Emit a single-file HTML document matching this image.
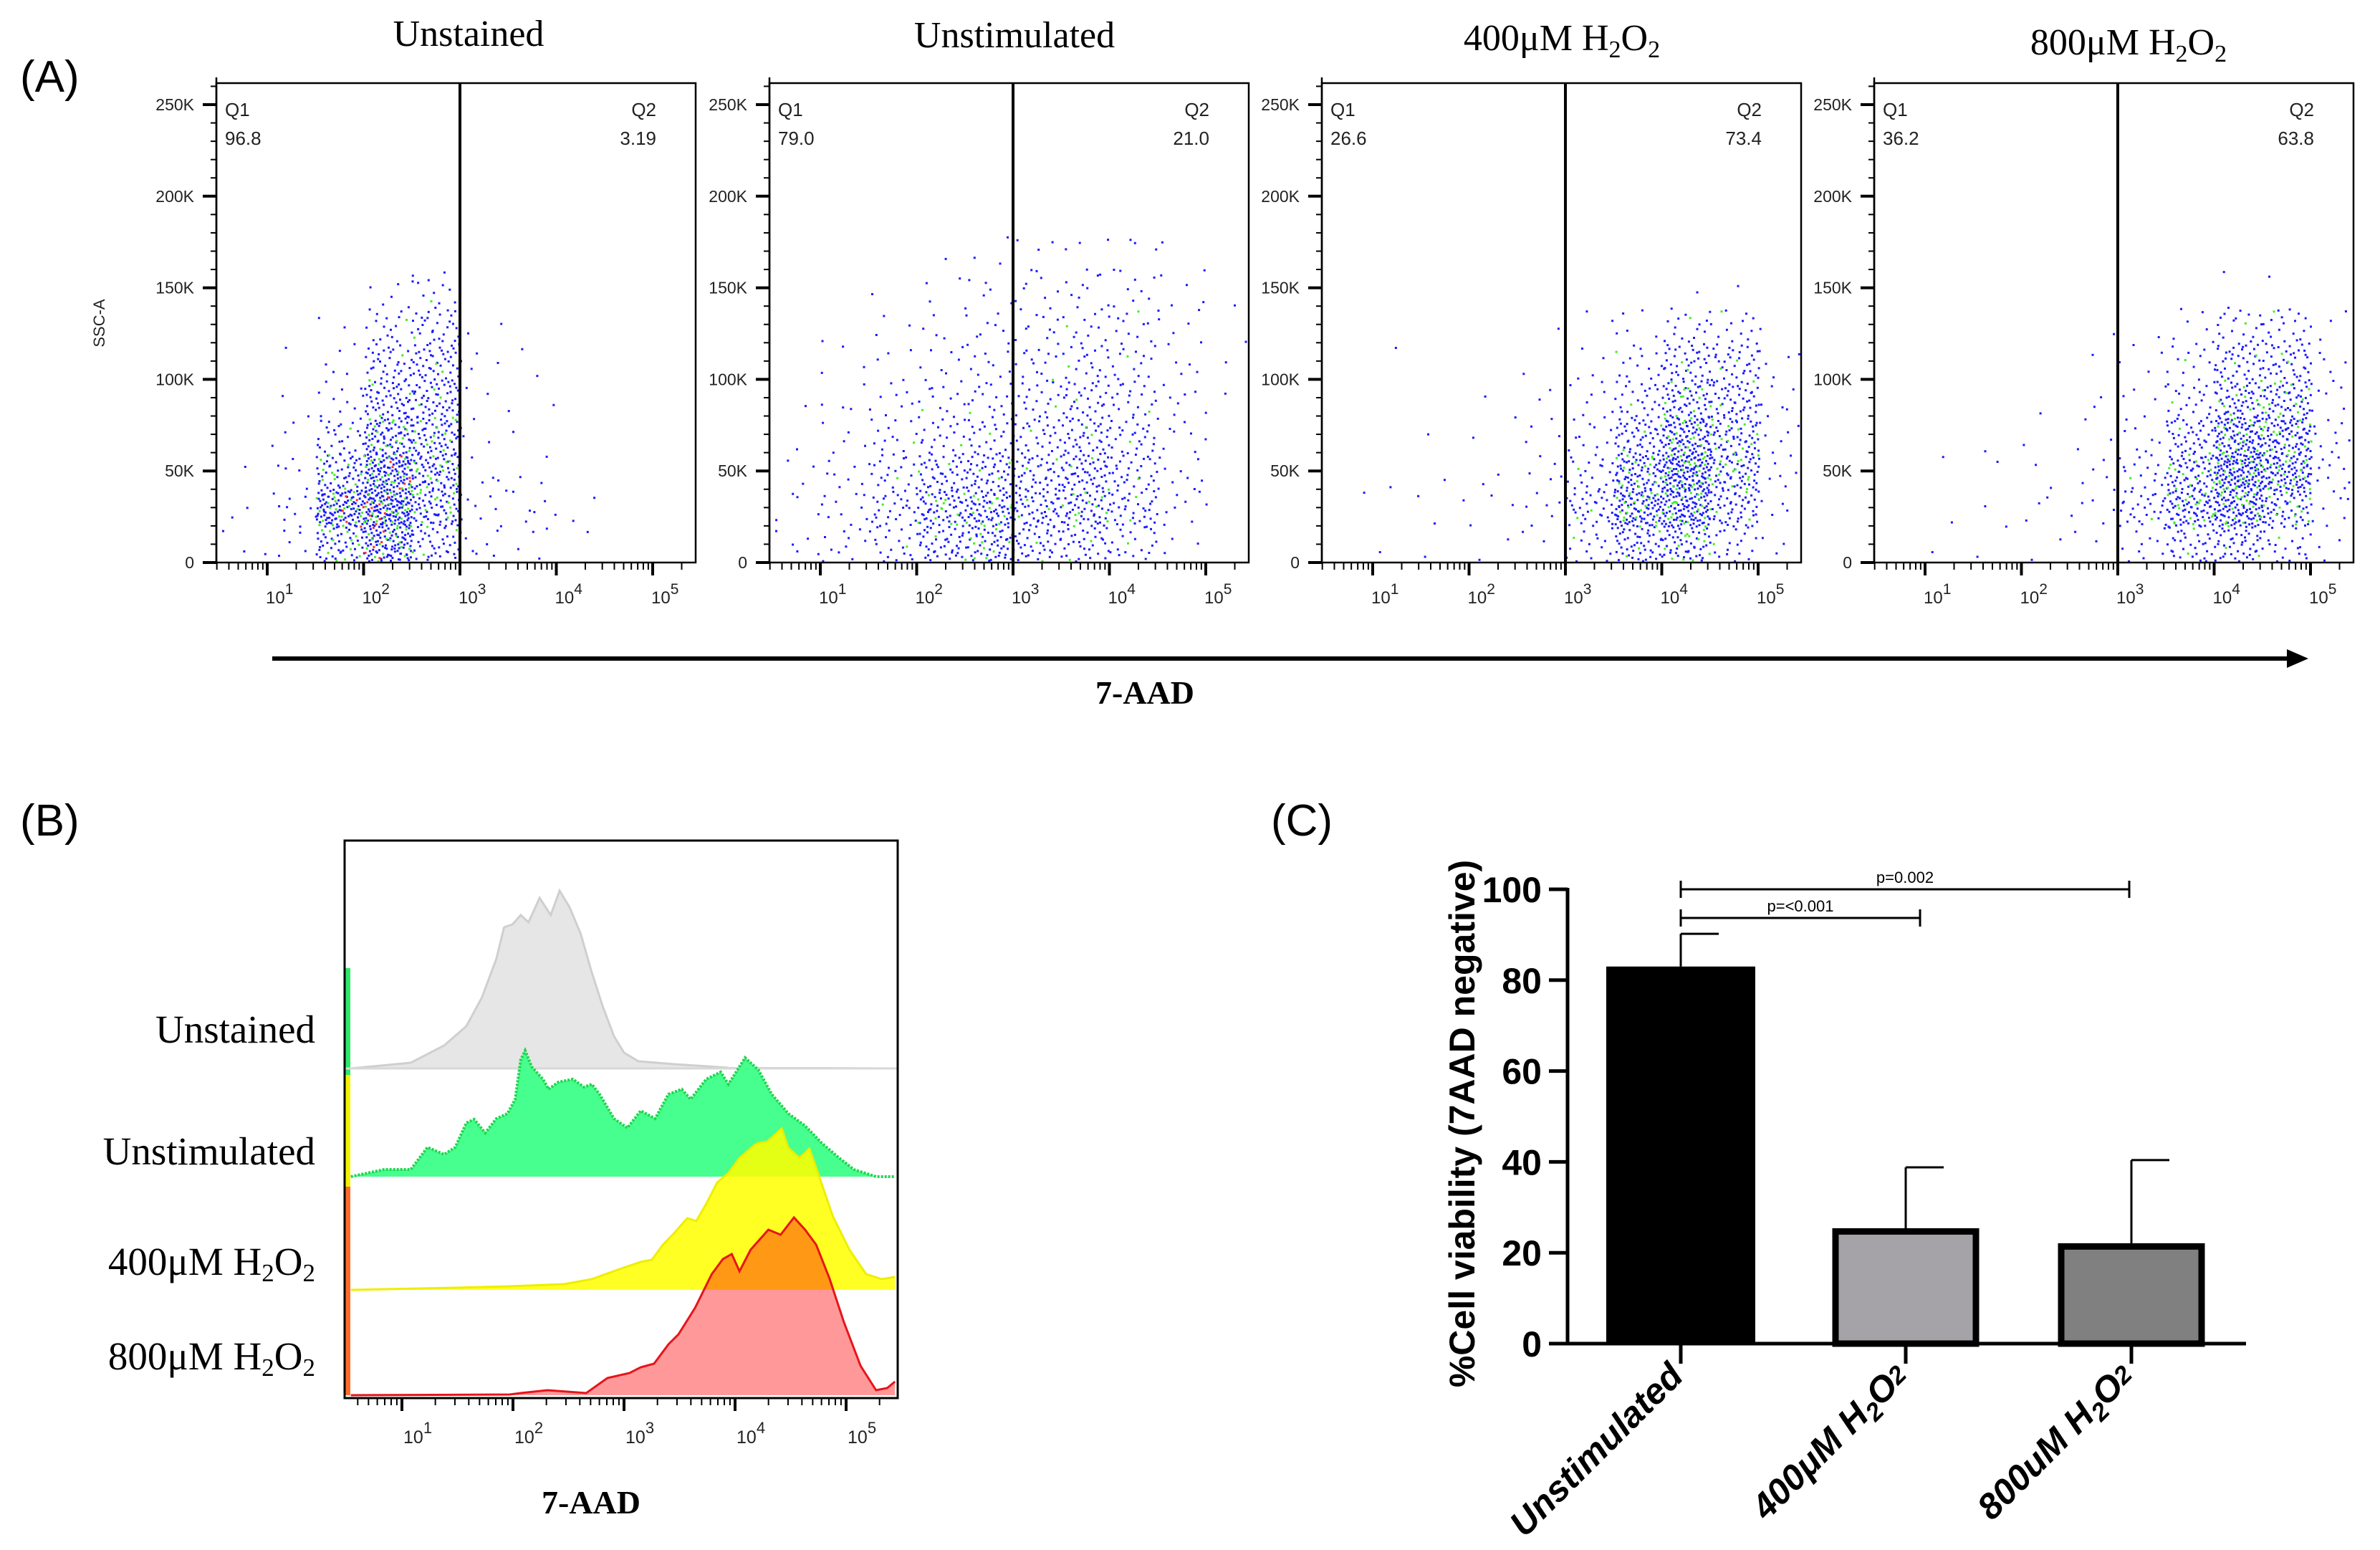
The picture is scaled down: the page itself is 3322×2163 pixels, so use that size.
<!DOCTYPE html>
<html><head><meta charset="utf-8"><style>
html,body{margin:0;padding:0;background:#fff;}
svg{display:block;}
.ser{font-family:"Liberation Serif",serif;}
.san{font-family:"Liberation Sans",sans-serif;}
</style></head><body>
<svg id="root" width="3322" height="2163" viewBox="0 0 3322 2163" xmlns="http://www.w3.org/2000/svg">
<rect width="3322" height="2163" fill="#fff"/>
<text class="san" x="28" y="128" font-size="62">(A)</text>
<text class="san" x="28" y="1166" font-size="62">(B)</text>
<text class="san" x="1774" y="1166" font-size="62">(C)</text>
<g id="panelA"></g>
<g id="panelB"></g>
<g id="panelC"></g>
</svg>
<script>
// ---------- Panel A data ----------
const scatterTitles = ["Unstained","Unstimulated","400","800"];
const q1Values = ["96.8","79.0","26.6","36.2"];
const q2Values = ["3.19","21.0","73.4","63.8"];
const yTickLabelsA = ["0","50K","100K","150K","200K","250K"];
const yTickValuesA = [0,50,100,150,200,250];
const decadeExps = [1,2,3,4,5];
// density grids: rows = SSC bins of 20K (0-20K upward), cols = half-decade bins from 10^0.5 to 10^5.5
const gridUnstained = [
 [3,6,60,120,40,6,4,1,0,0],
 [2,10,130,170,70,8,6,2,0,0],
 [1,5,60,140,80,4,3,0,0,0],
 [0,3,25,90,70,3,1,0,0,0],
 [0,2,10,55,55,3,1,0,0,0],
 [0,1,5,35,45,3,2,0,0,0],
 [0,0,2,18,30,2,0,0,0,0],
 [0,0,0,5,12,0,0,0,0,0]];
const gridUnstim = [
 [5,10,20,45,60,40,35,20,4,0],
 [4,10,28,65,80,55,60,35,8,0],
 [3,8,20,42,50,42,55,30,8,0],
 [1,5,13,20,25,28,42,25,7,0],
 [1,4,8,13,16,20,30,19,7,1],
 [0,3,4,8,11,14,19,14,5,1],
 [0,1,3,5,8,11,14,12,5,1],
 [0,0,1,3,5,7,8,8,4,1],
 [0,0,0,1,3,4,4,4,2,0]];
const grid400 = [
 [0,1,1,2,3,16,55,60,20,3],
 [1,1,2,3,6,35,110,125,50,6],
 [0,1,1,2,5,20,85,150,70,8],
 [0,0,1,2,4,11,50,105,62,7],
 [0,0,0,1,2,7,25,62,48,8],
 [0,1,0,0,1,4,14,40,34,5],
 [0,0,0,0,1,2,5,16,14,2],
 [0,0,0,0,0,0,0,1,1,0]];
const grid800 = [
 [0,1,1,2,3,10,35,48,20,4],
 [0,1,2,3,5,28,85,118,62,8],
 [0,1,1,2,5,16,70,150,110,11],
 [0,0,1,1,3,8,42,110,90,11],
 [0,0,0,1,2,5,20,62,62,8],
 [0,0,0,0,1,4,13,40,40,6],
 [0,0,0,0,1,1,6,20,20,3],
 [0,0,0,0,0,0,0,1,1,0]];
const grids = [gridUnstained, gridUnstim, grid400, grid800];

// ---------- Panel B data ----------
const histNames = ["Unstained","Unstimulated","400","800"];
const greyLog = [0.54,1.08,1.38,1.58,1.72,1.85,1.92,1.995,2.07,2.14,2.24,2.34,2.42,2.51,2.61,2.71,2.81,2.91,3.0,3.13,3.45,3.94,5.42];
const greyH   = [0,8,32,59,99,153,197,201,214,204,238,214,248,225,188,134,86,45,22,10,6,1,0];
const greenLog = [0.54,0.84,1.08,1.23,1.38,1.48,1.58,1.65,1.75,1.85,1.95,2.02,2.07,2.11,2.17,2.27,2.32,2.41,2.54,2.64,2.71,2.78,2.91,3.03,3.15,3.28,3.40,3.52,3.60,3.74,3.87,3.94,4.09,4.21,4.33,4.48,4.63,4.78,4.93,5.07,5.27,5.44];
const greenH   = [0,10,10,41,31,41,75,80,61,81,88,108,163,176,153,136,122,132,136,125,129,115,81,68,92,81,115,122,108,136,146,129,166,149,115,88,71,47,27,10,0,0];
const yellowLog = [0.54,1.48,1.97,2.46,2.71,2.96,3.15,3.25,3.35,3.45,3.57,3.65,3.74,3.84,3.94,4.04,4.19,4.29,4.42,4.48,4.58,4.67,4.76,4.88,5.03,5.18,5.32,5.44];
const yellowH   = [0,3,5,8,15,29,39,42,63,79,100,96,120,150,163,184,204,207,225,198,184,197,157,103,56,22,15,18];
const redLog = [0.54,1.97,2.07,2.31,2.66,2.85,3.05,3.15,3.27,3.40,3.49,3.64,3.79,3.89,3.97,4.04,4.14,4.30,4.41,4.53,4.63,4.73,4.85,4.98,5.13,5.27,5.37,5.44];
const redH   = [0,1,3,7,3,24,31,39,44,71,85,122,169,190,197,173,203,231,224,248,231,210,163,102,41,7,10,19];

// ---------- Panel C data ----------
const barCategories = ["Unstimulated","400","800"];
const barMeans = [83.0,25.4,22.1];
const barErrTop = [90.2,38.8,40.4];
const yTicksC = [0,20,40,60,80,100];
const sigLabels = ["p=<0.001","p=0.002"];
const sigTargets = [1,2];
const sigLevels = [93.7,100];

const NS="http://www.w3.org/2000/svg";
function mk(tag, attrs, parent){const e=document.createElementNS(NS,tag);for(const k in attrs)e.setAttribute(k,attrs[k]);if(parent)parent.appendChild(e);return e;}
function halton(i,b){let f=1,r=0;while(i>0){f/=b;r+=f*(i%b);i=Math.floor(i/b);}return r;}

// ===== Panel A =====
(function(){
 const g=document.getElementById('panelA');
 const lefts=[302,1074,1845,2616], W=669, top=116, bot=785;
 const dec=134.5, off=71, kpx=(bot-146)/250;
 const titleX=[654,1416,2180,2971], titleY=[64,66,70,76];
 lefts.forEach((L,p)=>{
  const xs=lg=>L+off+(lg-1)*dec;
  const ys=v=>bot-v*kpx;
  const pg=mk('g',{},g);
  
  
  const t=mk('text',{x:titleX[p],y:titleY[p],'text-anchor':'middle','font-size':52,class:'ser'},pg);
  
  
  if(p<2){t.textContent=scatterTitles[p];}
  else{t.innerHTML=scatterTitles[p]+'μM H<tspan font-size="34" dy="10">2</tspan><tspan dy="-10">O</tspan><tspan font-size="34" dy="10">2</tspan>';}
  const grid=grids[p]; let blue='',green='',red='';let idx=1;
  grid.forEach((row,r)=>row.forEach((n,c)=>{
   for(let k=0;k<n;k++){
    const u=halton(idx+k*7+c*131+r*17,2), v=halton(idx+k*7+c*131+r*17,3);
    const lg=0.5+c*0.5+u*0.5, s=r*20+v*20;
    const x=xs(lg), y=ys(s);
    if(x<L+3||x>L+W-4||y<top+3||y>bot-3)continue;
    const d='M'+x.toFixed(1)+' '+y.toFixed(1)+'h3v3h-3z';
    if(p===0 && n>=100 && k%22===5) red+=d;
    else if((n>=60 && k%7===3)||(k%19===11)) green+=d;
    else blue+=d;
   }
   idx+=n;
  }));
  const pb=mk('path',{d:blue,fill:'#1a1aff'},pg);
  const pgr=mk('path',{d:green,fill:'#44ee22'},pg);
  const pr=mk('path',{d:red,fill:'#ff3020'},pg);
  const bx=mk('rect',{x:L,y:top,width:W,height:bot-top,fill:'none',stroke:'#000','stroke-width':2.5},pg);
  
  const gl=mk('line',{x1:xs(3),x2:xs(3),y1:top,y2:bot,stroke:'#000','stroke-width':4},pg);
  
  [['Q1',L+12,162,'start'],[q1Values[p],L+12,202,'start'],['Q2',L+W-55,162,'end'],[q2Values[p],L+W-55,202,'end']].forEach(a=>{
   const q=mk('text',{x:a[1],y:a[2],'font-size':26,class:'san',fill:'#222','text-anchor':a[3]},pg);q.textContent=a[0];
   
  });
  mk('line',{x1:L,x2:L,y1:top-8,y2:bot,stroke:'#000','stroke-width':2.5},pg);
  for(let v=0;v<=260;v+=10){
   const maj=v%50===0;
   mk('line',{x1:L-(maj?19:8),x2:L,y1:ys(v),y2:ys(v),stroke:'#000','stroke-width':maj?4:2},pg);
  }
  yTickValuesA.forEach((v,i)=>{
   const tl=mk('text',{x:L-31,y:ys(v)+8,'text-anchor':'end','font-size':23,class:'san',fill:'#222'},pg);
   tl.textContent=yTickLabelsA[i];
   
  });
  for(let d=0;d<=5;d++){for(let k=1;k<10;k++){
   const lg=d+Math.log10(k); const x=xs(lg);
   if(x<L||x>L+W)continue;
   const maj=k===1;
   mk('line',{x1:x,x2:x,y1:bot,y2:bot+(maj?18:10),stroke:'#000','stroke-width':maj?4:2},pg);
  }}
  decadeExps.forEach(e=>{
   const tl=mk('text',{x:xs(e)-2,y:842,'text-anchor':'start','font-size':24,class:'san',fill:'#222'},pg);
   tl.innerHTML='10<tspan font-size="21" dy="-13">'+e+'</tspan>';
   
  });
 });
 const ssc=mk('text',{x:0,y:0,'font-size':22,class:'san',fill:'#222','text-anchor':'middle',transform:'translate(146,451) rotate(-90)'},g);
 ssc.textContent='SSC-A';
 const ar=mk('line',{x1:380,x2:3195,y1:919,y2:919,stroke:'#000','stroke-width':6},g);
 
 const ah=mk('polygon',{points:'3192,906 3222,919 3192,932',fill:'#000'},g);
 
 const xt=mk('text',{x:1598,y:982,'text-anchor':'middle','font-size':46,'font-weight':'bold',class:'ser'},g);
 xt.textContent='7-AAD';
})();

// ===== Panel B =====
(function(){
 const g=document.getElementById('panelB');
 const L=481,R=1253,T=1173,B=1951;
 const xs=lg=>561+(lg-1)*155;
 const bases=[1491,1642,1800,1947];
 const series=[[greyLog,greyH,'#e6e6e6','#cfcfcf','hist-unstained'],[greenLog,greenH,'#47ff8e','#1fd64f','hist-unstimulated'],[yellowLog,yellowH,'rgba(255,255,0,0.86)','#eeee00','hist-400uM'],[redLog,redH,'rgba(255,0,0,0.4)','#e8141a','hist-800uM']];
 [[1351,1500,'#2ee86a'],[1500,1656,'#f2f200'],[1656,1947,'#ff6a2a']].forEach(s=>{mk('rect',{x:L+1,y:s[0],width:7,height:s[1]-s[0],fill:s[2]},g);});
 series.forEach((s,i)=>{
  const base=bases[i];
  let d='M'+xs(s[0][0])+' '+base;
  s[0].forEach((lg,j)=>{d+=' L'+xs(lg).toFixed(1)+' '+(base-s[1][j]).toFixed(1);});
  const last=xs(s[0][s[0].length-1]);
  const area=mk('path',{d:d+' L'+last+' '+base+' Z',fill:s[2]},g);
  
  let dl='';s[0].forEach((lg,j)=>{dl+=(j?' L':'M')+xs(lg).toFixed(1)+' '+(base-s[1][j]).toFixed(1);});
  const ln=mk('path',{d:dl,fill:'none',stroke:s[3],'stroke-width':i===1?4:3,'stroke-dasharray':i===1?'3 2':'none'},g);
  
  if(i===0){mk('line',{x1:L,x2:R,y1:base,y2:base,stroke:'#d8d8d8','stroke-width':3},g);}
 });
 const bx=mk('rect',{x:L,y:T,width:R-L,height:B-T,fill:'none',stroke:'#000','stroke-width':3},g);
 
 for(let d=0;d<=5;d++){for(let k=1;k<10;k++){
  const x=xs(d+Math.log10(k)); if(x<L||x>R)continue;
  const maj=k===1;
  mk('line',{x1:x,x2:x,y1:B,y2:B+(maj?18:10),stroke:'#000','stroke-width':maj?4:2},g);
 }}
 decadeExps.forEach(e=>{
  const tl=mk('text',{x:xs(e)+2,y:2014,'text-anchor':'start','font-size':25,class:'san',fill:'#222'},g);
  tl.innerHTML='10<tspan font-size="22" dy="-14">'+e+'</tspan>';
  
 });
 const lbY=[1455,1625,1779,1911];
 histNames.forEach((n,i)=>{
  const t=mk('text',{x:440,y:lbY[i],'text-anchor':'end','font-size':55,class:'ser'},g);
  if(i<2)t.textContent=n; else t.innerHTML=n+'μM H<tspan font-size="35" dy="9">2</tspan><tspan dy="-9">O</tspan><tspan font-size="35" dy="9">2</tspan>';
  
 });
 const xt=mk('text',{x:825,y:2112,'text-anchor':'middle','font-size':46,'font-weight':'bold',class:'ser'},g);
 xt.textContent='7-AAD';
})();

// ===== Panel C =====
(function(){
 const g=document.getElementById('panelC');
 const X0=2188,X1=3135,Y0=1875,Y100=1241;
 const ys=v=>Y0-(v/100)*(Y0-Y100);
 const centers=[2346,2660,2975], bw=[208,205,205];
 const fills=['#000','#a5a3a8','#808080'];
 barCategories.forEach((c,i)=>{
  const cx=centers[i];
  const eb=mk('line',{x1:cx,x2:cx,y1:ys(barErrTop[i]),y2:ys(barMeans[i]),stroke:'#000','stroke-width':3},g);
  
  mk('line',{x1:cx,x2:cx+53,y1:ys(barErrTop[i]),y2:ys(barErrTop[i]),stroke:'#000','stroke-width':3},g);
  const b=mk('rect',{x:cx-bw[i]/2+ (i?4.5:0),y:ys(barMeans[i])+(i?4.5:0),width:bw[i]-(i?9:0),height:Y0-ys(barMeans[i])-(i?4.5:0),fill:fills[i],stroke:i?'#000':'none','stroke-width':9},g);
  
  mk('line',{x1:cx,x2:cx,y1:Y0,y2:Y0+28,stroke:'#000','stroke-width':5},g);
  const t=mk('text',{x:0,y:0,'text-anchor':'end','font-size':50,'font-weight':'bold','font-style':'italic',class:'san',transform:'translate('+(cx+6)+','+(Y0+48)+') rotate(-45)'},g);
  if(i===0)t.textContent='Unstimulated';
  else t.innerHTML=c+(i===1?'μM':'uM')+' H<tspan font-size="35" dy="10">2</tspan><tspan dy="-10">O</tspan><tspan font-size="35" dy="-4">2</tspan>';
  
 });
 const ya=mk('line',{x1:X0,x2:X0,y1:Y100-2,y2:Y0+2,stroke:'#000','stroke-width':5},g);
 
 const xa=mk('line',{x1:X0-2,x2:X1,y1:Y0,y2:Y0,stroke:'#000','stroke-width':5},g);
 
 yTicksC.forEach(v=>{
  mk('line',{x1:X0-26,x2:X0,y1:ys(v),y2:ys(v),stroke:'#000','stroke-width':5},g);
  const t=mk('text',{x:X0-36,y:ys(v)+18,'text-anchor':'end','font-size':50,'font-weight':'bold',class:'san'},g);
  t.textContent=v;
 });
 const yt=mk('text',{x:0,y:0,'text-anchor':'middle','font-size':50,'font-weight':'bold',class:'san',transform:'translate(2058,1568) rotate(-90)'},g);
 yt.textContent='%Cell viability (7AAD negative)';
 const sigEnds=[2680,2972];
 sigTargets.forEach((ti,i)=>{
  const y=ys(sigLevels[i]), x1=centers[0], x2=sigEnds[i];
  const sg=mk('path',{d:'M'+x1+' '+(y-12)+'V'+(y+12)+'M'+x1+' '+y+'H'+x2+'M'+x2+' '+(y-12)+'V'+(y+12),stroke:'#000','stroke-width':3,fill:'none'},g);
  
  const t=mk('text',{x:(x1+x2)/2,y:y-9,'text-anchor':'middle','font-size':22,class:'san'},g);
  t.textContent=sigLabels[i];
 });
})();
</script>
</body></html>
